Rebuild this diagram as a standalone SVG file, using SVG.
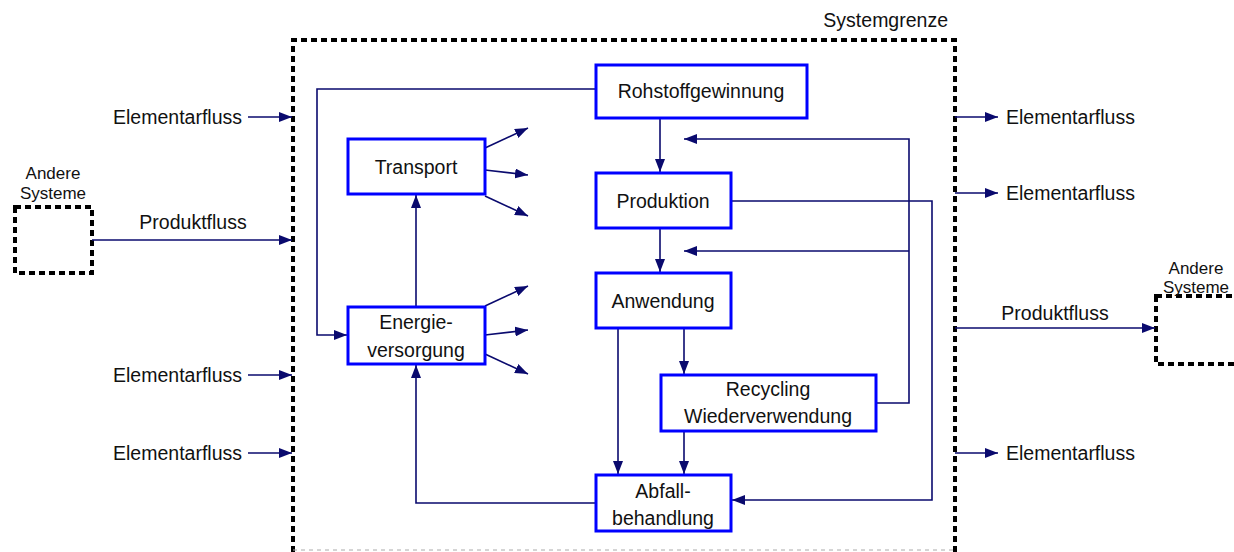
<svg xmlns="http://www.w3.org/2000/svg" width="1234" height="552" viewBox="0 0 1234 552">
<style>
text{font-family:"Liberation Sans",Arial,sans-serif;font-size:19.5px;fill:#111;}
.sm{font-size:17px;}
.box{fill:#fff;stroke:#0000ff;stroke-width:3;}
.bd{fill:none;stroke:#000;stroke-width:4;stroke-dasharray:6 4;}
.c{fill:none;stroke:#0a0a6e;stroke-width:1.6;}
</style>
<defs>
<marker id="a" markerUnits="userSpaceOnUse" markerWidth="14" markerHeight="10" refX="13" refY="5" orient="auto">
<path d="M0,0 L13,5 L0,10 Z" fill="#0a0a6e"/>
</marker>
</defs>
<g id="boundary">
<path class="bd" d="M293,552 V40 H955 V552"/>
<line x1="293" y1="550" x2="955" y2="550" stroke="#aaa" stroke-width="1" stroke-dasharray="4 4"/>
<text x="948" y="27" text-anchor="end">Systemgrenze</text>
</g>
<g id="andere-links">
<rect class="bd" x="15" y="207" width="77" height="66"/>
<text class="sm" x="53" y="179" text-anchor="middle">Andere</text>
<text class="sm" x="53" y="199" text-anchor="middle">Systeme</text>
</g>
<g id="andere-rechts">
<rect class="bd" x="1156" y="296" width="90" height="68"/>
<text class="sm" x="1196" y="274" text-anchor="middle">Andere</text>
<text class="sm" x="1196" y="293" text-anchor="middle">Systeme</text>
</g>
<g id="connectors">
<line class="c" x1="248" y1="117" x2="292" y2="117" marker-end="url(#a)"/>
<line class="c" x1="92" y1="240" x2="292" y2="240" marker-end="url(#a)"/>
<line class="c" x1="248" y1="375" x2="292" y2="375" marker-end="url(#a)"/>
<line class="c" x1="248" y1="453" x2="292" y2="453" marker-end="url(#a)"/>
<line class="c" x1="955" y1="117" x2="998" y2="117" marker-end="url(#a)"/>
<line class="c" x1="955" y1="193" x2="998" y2="193" marker-end="url(#a)"/>
<line class="c" x1="955" y1="328" x2="1155" y2="328" marker-end="url(#a)"/>
<line class="c" x1="955" y1="453" x2="998" y2="453" marker-end="url(#a)"/>
<path class="c" d="M596,89 H317 V335 H347" marker-end="url(#a)"/>
<line class="c" x1="660" y1="118" x2="660" y2="172" marker-end="url(#a)"/>
<line class="c" x1="660" y1="228" x2="660" y2="272" marker-end="url(#a)"/>
<path class="c" d="M876,403 H909 V139 H684" marker-end="url(#a)"/>
<path class="c" d="M909,251 H684" marker-end="url(#a)"/>
<path class="c" d="M731,201 H932 V500 H732" marker-end="url(#a)"/>
<line class="c" x1="618" y1="328" x2="618" y2="474" marker-end="url(#a)"/>
<line class="c" x1="684" y1="328" x2="684" y2="374" marker-end="url(#a)"/>
<line class="c" x1="684" y1="431" x2="684" y2="474" marker-end="url(#a)"/>
<path class="c" d="M596,503 H416 V365" marker-end="url(#a)"/>
<line class="c" x1="416" y1="307" x2="416" y2="195" marker-end="url(#a)"/>
<line class="c" x1="485" y1="148" x2="528" y2="128" marker-end="url(#a)"/>
<line class="c" x1="485" y1="170" x2="528" y2="175" marker-end="url(#a)"/>
<line class="c" x1="485" y1="196" x2="528" y2="216" marker-end="url(#a)"/>
<line class="c" x1="485" y1="306" x2="528" y2="286" marker-end="url(#a)"/>
<line class="c" x1="485" y1="335" x2="528" y2="330" marker-end="url(#a)"/>
<line class="c" x1="485" y1="354" x2="528" y2="374" marker-end="url(#a)"/>
</g>
<g id="labels">
<text x="242" y="124" text-anchor="end">Elementarfluss</text>
<text x="193" y="229" text-anchor="middle">Produktfluss</text>
<text x="242" y="382" text-anchor="end">Elementarfluss</text>
<text x="242" y="460" text-anchor="end">Elementarfluss</text>
<text x="1006" y="124">Elementarfluss</text>
<text x="1006" y="200">Elementarfluss</text>
<text x="1055" y="320" text-anchor="middle">Produktfluss</text>
<text x="1006" y="460">Elementarfluss</text>
</g>
<g id="rohstoffgewinnung">
<rect class="box" x="596" y="65" width="211" height="53"/>
<text x="701" y="98" text-anchor="middle">Rohstoffgewinnung</text>
</g>
<g id="transport">
<rect class="box" x="348" y="139" width="137" height="55"/>
<text x="416" y="174" text-anchor="middle">Transport</text>
</g>
<g id="produktion">
<rect class="box" x="596" y="173" width="135" height="55"/>
<text x="663" y="208" text-anchor="middle">Produktion</text>
</g>
<g id="anwendung">
<rect class="box" x="596" y="273" width="135" height="55"/>
<text x="663" y="308" text-anchor="middle">Anwendung</text>
</g>
<g id="energieversorgung">
<rect class="box" x="348" y="307" width="137" height="57"/>
<text x="416" y="329" text-anchor="middle">Energie-</text>
<text x="416" y="357" text-anchor="middle">versorgung</text>
</g>
<g id="recycling">
<rect class="box" x="661" y="375" width="215" height="56"/>
<text x="768" y="396" text-anchor="middle">Recycling</text>
<text x="768" y="423" text-anchor="middle">Wiederverwendung</text>
</g>
<g id="abfallbehandlung">
<rect class="box" x="596" y="475" width="135" height="56"/>
<text x="663" y="498" text-anchor="middle">Abfall-</text>
<text x="663" y="525" text-anchor="middle">behandlung</text>
</g>
</svg>
